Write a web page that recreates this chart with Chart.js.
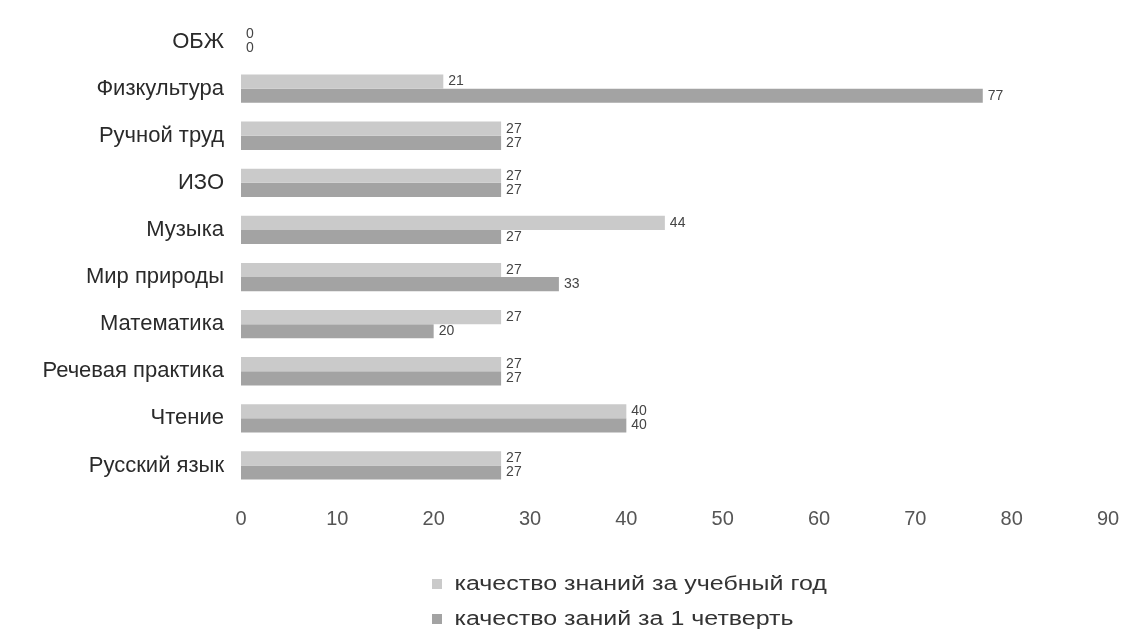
<!DOCTYPE html>
<html>
<head>
<meta charset="utf-8">
<script src="https://cdn.jsdelivr.net/npm/chart.js@4"></script>
<style>
  body { margin: 0; background: #fff; }
  #wrap { position: relative; width: 1132px; height: 637px; }
  #legend { position: absolute; left: 432px; top: 572px; font: 20px "Liberation Sans", Arial, sans-serif; color: #333; transform: scaleX(1.25); transform-origin: 0 0; }
  #legend div { height: 35px; line-height: 22px; white-space: nowrap; }
  #legend span.box { display: inline-block; width: 8px; height: 10px; margin-right: 10px; vertical-align: 1px; }
</style>
</head>
<body>
<div id="wrap">
  <canvas id="chart" width="1132" height="637"></canvas>
  <div id="legend"></div>
</div>
<script>
const categories = ['ОБЖ', 'Физкультура', 'Ручной труд', 'ИЗО', 'Музыка', 'Мир природы', 'Математика', 'Речевая практика', 'Чтение', 'Русский язык'];
const yearValues = [0, 21, 27, 27, 44, 27, 27, 27, 40, 27];
const quarterValues = [0, 77, 27, 27, 27, 33, 20, 27, 40, 27];
const seriesNames = ['качество знаний за учебный год', 'качество заний за 1 четверть'];
const xTicks = [0, 10, 20, 30, 40, 50, 60, 70, 80, 90];

const colors = ['#cacaca', '#a3a3a3'];
const font = '"Liberation Sans", Arial, sans-serif';

// value labels to the right of every bar
const valueLabels = {
  id: 'valueLabels',
  afterDatasetsDraw(chart) {
    const ctx = chart.ctx;
    ctx.save();
    ctx.font = '14px ' + font;
    ctx.fillStyle = '#444';
    ctx.textBaseline = 'middle';
    chart.data.datasets.forEach((ds, i) => {
      chart.getDatasetMeta(i).data.forEach((bar, j) => {
        ctx.fillText(ds.data[j], bar.x + 5, bar.y);
      });
    });
    ctx.restore();
  }
};

new Chart(document.getElementById('chart'), {
  type: 'bar',
  data: {
    labels: categories,
    datasets: [
      { label: seriesNames[0], data: yearValues, backgroundColor: colors[0], categoryPercentage: 0.6, barPercentage: 1 },
      { label: seriesNames[1], data: quarterValues, backgroundColor: colors[1], categoryPercentage: 0.6, barPercentage: 1 }
    ]
  },
  options: {
    indexAxis: 'y',
    responsive: false,
    animation: false,
    layout: { padding: { top: 18, right: 24, left: 0, bottom: 0 } },
    plugins: { legend: { display: false }, tooltip: { enabled: false } },
    scales: {
      x: {
        min: 0, max: 90,
        afterBuildTicks: s => { s.ticks = xTicks.map(v => ({ value: v })); },
        afterFit: s => { s.height = 148; s.paddingLeft = 0; s.paddingRight = 0; },
        grid: { display: false, drawTicks: false },
        border: { display: false },
        ticks: { padding: 18, color: '#555', font: { family: font, size: 20 } }
      },
      y: {
        afterFit: s => { s.width = 241; s.paddingTop = 0; s.paddingBottom = 0; },
        grid: { display: false, drawTicks: false },
        border: { display: false },
        ticks: { padding: 17, color: '#2a2a2a', font: { family: font, size: 22 } }
      }
    }
  },
  plugins: [valueLabels]
});

const legend = document.getElementById('legend');
seriesNames.forEach((name, i) => {
  const row = document.createElement('div');
  row.innerHTML = '<span class="box" style="background:' + colors[i] + '"></span>' + name;
  legend.appendChild(row);
});
</script>
</body>
</html>
